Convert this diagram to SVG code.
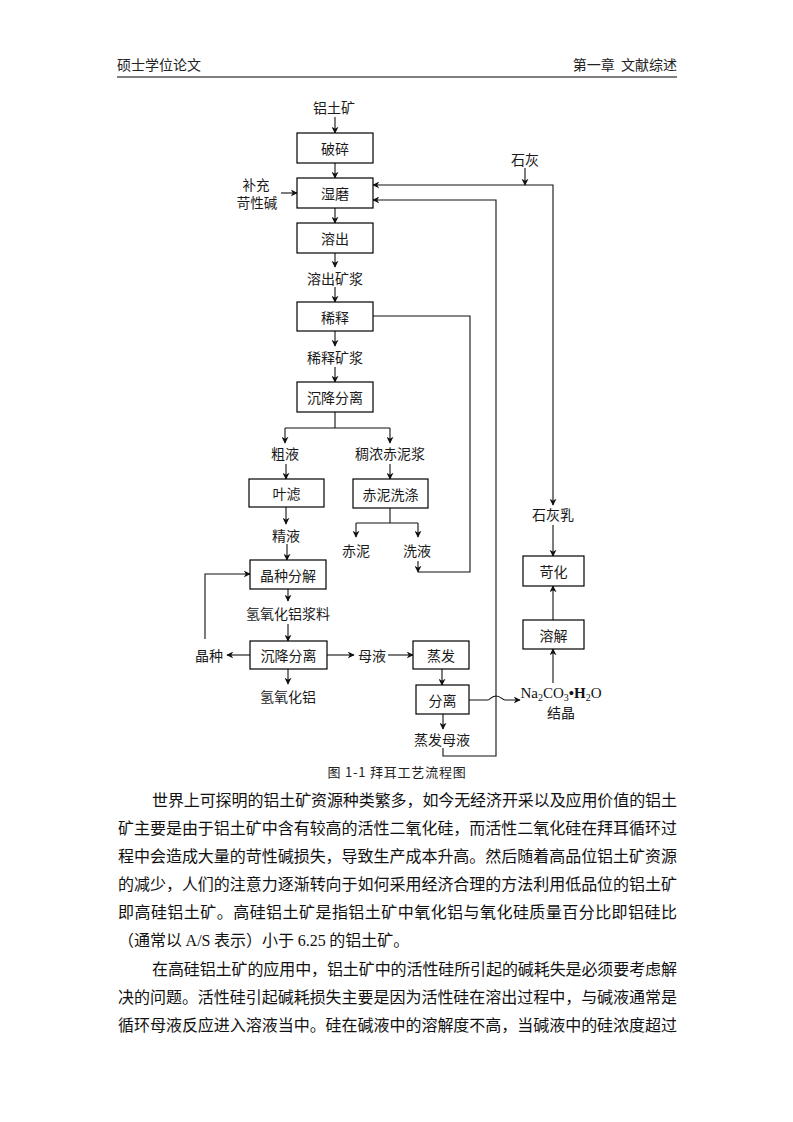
<svg xmlns="http://www.w3.org/2000/svg" width="793" height="1122" viewBox="0 0 793 1122">
<style>
.t{font-family:"Noto Sans CJK SC","Noto Sans",sans-serif;font-size:14px;fill:#1a1a1a;text-anchor:middle;dominant-baseline:central}
.s{font-size:13.5px}
.b{fill:#fff;stroke:#000;stroke-width:1.2}
.c{fill:none;stroke:#111;stroke-width:1.1}
.body{font-family:"Noto Sans CJK SC",sans-serif;font-size:16px;fill:#111}
.lat{font-family:"Liberation Serif",serif}
.hd{font-family:"Noto Sans CJK SC",sans-serif;font-size:14px;fill:#222}
</style>
<defs>
<marker id="ar" viewBox="0 0 10 10" refX="9" refY="5" markerWidth="7" markerHeight="7" orient="auto" markerUnits="userSpaceOnUse">
<path d="M0,0 L10,5 L0,10 L3,5 z" fill="#111"/>
</marker>
</defs>
<rect width="793" height="1122" fill="#fff"/>
<g id="header">
<text class="hd" x="117" y="70">硕士学位论文</text>
<text class="hd" x="677" y="70" text-anchor="end" xml:space="preserve">第一章  文献综述</text>
<line x1="117" y1="77" x2="677" y2="77" stroke="#000" stroke-width="1.2"/>
</g>
<g id="connectors">
<path class="c" marker-end="url(#ar)" d="M335,117 V133"/>
<path class="c" marker-end="url(#ar)" d="M335,163 V178"/>
<path class="c" marker-end="url(#ar)" d="M335,208 V223"/>
<path class="c" marker-end="url(#ar)" d="M335,253 V267"/>
<path class="c" marker-end="url(#ar)" d="M335,287 V302"/>
<path class="c" marker-end="url(#ar)" d="M335,331 V346"/>
<path class="c" marker-end="url(#ar)" d="M335,367 V382"/>
<path class="c" d="M335,412 V428 M285,428 H390"/>
<path class="c" marker-end="url(#ar)" d="M285,428 V443"/>
<path class="c" marker-end="url(#ar)" d="M390,428 V443"/>
<path class="c" marker-end="url(#ar)" d="M286,464 V479"/>
<path class="c" marker-end="url(#ar)" d="M390,464 V479"/>
<path class="c" marker-end="url(#ar)" d="M286,507 V524"/>
<path class="c" marker-end="url(#ar)" d="M287,544 V560"/>
<path class="c" d="M390,508 V523 M356,523 H418"/>
<path class="c" marker-end="url(#ar)" d="M356,523 V537"/>
<path class="c" marker-end="url(#ar)" d="M418,523 V537"/>
<path class="c" marker-end="url(#ar)" d="M418,561 V572"/>
<path class="c" d="M418,572 H470 V316 H373"/>
<path class="c" marker-end="url(#ar)" d="M288,589 V601"/>
<path class="c" marker-end="url(#ar)" d="M288,624 V641"/>
<path class="c" marker-end="url(#ar)" d="M250,655 H227"/>
<path class="c" marker-end="url(#ar)" d="M205,639 V574 H250"/>
<path class="c" marker-end="url(#ar)" d="M327,655 H354"/>
<path class="c" marker-end="url(#ar)" d="M388,655 H413"/>
<path class="c" marker-end="url(#ar)" d="M288,669 V684"/>
<path class="c" marker-end="url(#ar)" d="M442,669 V685"/>
<path class="c" marker-end="url(#ar)" d="M443,714 V729"/>
<path class="c" marker-end="url(#ar)" d="M443,748 V756 H496 V200 H373"/>
<path class="c" marker-end="url(#ar)" d="M469,700 H488 C490,700 491,696 496,696 C501,696 502,700 505,700 H520"/>
<path class="c" marker-end="url(#ar)" d="M553,683 V649"/>
<path class="c" marker-end="url(#ar)" d="M553,620 V586"/>
<path class="c" marker-end="url(#ar)" d="M553,525 V556"/>
<path class="c" marker-end="url(#ar)" d="M525,168 V185"/>
<path class="c" marker-end="url(#ar)" d="M525,185 H373"/>
<path class="c" marker-end="url(#ar)" d="M525,185 H553 V505"/>
<path class="c" marker-end="url(#ar)" d="M281,193 H297"/>
</g>
<g id="n-posui"><rect class="b" x="297" y="133" width="76" height="30"/><text class="t" x="335" y="148">破碎</text></g>
<g id="n-shimo"><rect class="b" x="297" y="178" width="76" height="30"/><text class="t" x="335" y="193">湿磨</text></g>
<g id="n-rongchu"><rect class="b" x="297" y="223" width="76" height="30"/><text class="t" x="335" y="238">溶出</text></g>
<g id="n-xishi"><rect class="b" x="297" y="302" width="76" height="29"/><text class="t" x="335" y="316.5">稀释</text></g>
<g id="n-chenjiang1"><rect class="b" x="297" y="382" width="76" height="30"/><text class="t" x="335" y="397">沉降分离</text></g>
<g id="n-yelv"><rect class="b" x="249" y="479" width="75" height="28"/><text class="t" x="286.5" y="493">叶滤</text></g>
<g id="n-chinixidi"><rect class="b" x="353" y="479" width="75" height="29"/><text class="t" x="390.5" y="493.5">赤泥洗涤</text></g>
<g id="n-jingzhong"><rect class="b" x="250" y="560" width="76" height="29"/><text class="t" x="288" y="574.5">晶种分解</text></g>
<g id="n-chenjiang2"><rect class="b" x="250" y="641" width="77" height="28"/><text class="t" x="288.5" y="655">沉降分离</text></g>
<g id="n-zhengfa"><rect class="b" x="413" y="641" width="56" height="28"/><text class="t" x="441" y="655">蒸发</text></g>
<g id="n-fenli"><rect class="b" x="416" y="685" width="53" height="29"/><text class="t" x="442.5" y="699.5">分离</text></g>
<g id="n-kehua"><rect class="b" x="523" y="556" width="61" height="30"/><text class="t" x="553.5" y="571">苛化</text></g>
<g id="n-rongjie"><rect class="b" x="523" y="620" width="61" height="29"/><text class="t" x="553.5" y="634.5">溶解</text></g>
<g id="labels">
<text class="t" x="334" y="107">铝土矿</text>
<text class="t s" x="256" y="184">补充</text>
<text class="t s" x="257" y="202">苛性碱</text>
<text class="t" x="525" y="159">石灰</text>
<text class="t" x="335" y="278">溶出矿浆</text>
<text class="t" x="335" y="357">稀释矿浆</text>
<text class="t" x="285" y="453">粗液</text>
<text class="t" x="390" y="453">稠浓赤泥浆</text>
<text class="t" x="286" y="535">精液</text>
<text class="t" x="356" y="550">赤泥</text>
<text class="t" x="417" y="550">洗液</text>
<text class="t" x="288" y="613">氢氧化铝浆料</text>
<text class="t" x="209" y="655">晶种</text>
<text class="t" x="372" y="655">母液</text>
<text class="t" x="288" y="696">氢氧化铝</text>
<text class="t" x="442" y="739">蒸发母液</text>
<text class="t" x="553" y="514">石灰乳</text>
<text x="561" y="698" text-anchor="middle" font-family="Liberation Serif,serif" font-size="15" fill="#111">Na<tspan font-size="10" dy="3">2</tspan><tspan dy="-3">CO</tspan><tspan font-size="10" dy="3">3</tspan><tspan dy="-3" font-weight="bold">•H</tspan><tspan font-size="10" dy="3">2</tspan><tspan dy="-3">O</tspan></text>
<text class="t" x="561" y="712">结晶</text>
</g>
<g id="caption">
<text x="397" y="777" text-anchor="middle" font-family="Noto Sans CJK SC,sans-serif" font-size="13" letter-spacing="0.8" fill="#222">图 1-1 拜耳工艺流程图</text>
</g>
<g id="bodytext" class="body">
<text x="152" y="806" textLength="525" lengthAdjust="spacing">世界上可探明的铝土矿资源种类繁多，如今无经济开采以及应用价值的铝土</text>
<text x="118" y="834" textLength="559" lengthAdjust="spacing">矿主要是由于铝土矿中含有较高的活性二氧化硅，而活性二氧化硅在拜耳循环过</text>
<text x="118" y="862" textLength="559" lengthAdjust="spacing">程中会造成大量的苛性碱损失，导致生产成本升高。然后随着高品位铝土矿资源</text>
<text x="118" y="890" textLength="559" lengthAdjust="spacing">的减少，人们的注意力逐渐转向于如何采用经济合理的方法利用低品位的铝土矿</text>
<text x="118" y="918" textLength="559" lengthAdjust="spacing">即高硅铝土矿。高硅铝土矿是指铝土矿中氧化铝与氧化硅质量百分比即铝硅比</text>
<text x="118" y="946">（通常以 <tspan class="lat">A/S</tspan> 表示）小于 <tspan class="lat">6.25</tspan> 的铝土矿。</text>
<text x="152" y="974.5" textLength="525" lengthAdjust="spacing">在高硅铝土矿的应用中，铝土矿中的活性硅所引起的碱耗失是必须要考虑解</text>
<text x="118" y="1002.5" textLength="559" lengthAdjust="spacing">决的问题。活性硅引起碱耗损失主要是因为活性硅在溶出过程中，与碱液通常是</text>
<text x="118" y="1030.5" textLength="559" lengthAdjust="spacing">循环母液反应进入溶液当中。硅在碱液中的溶解度不高，当碱液中的硅浓度超过</text>
</g>
</svg>
